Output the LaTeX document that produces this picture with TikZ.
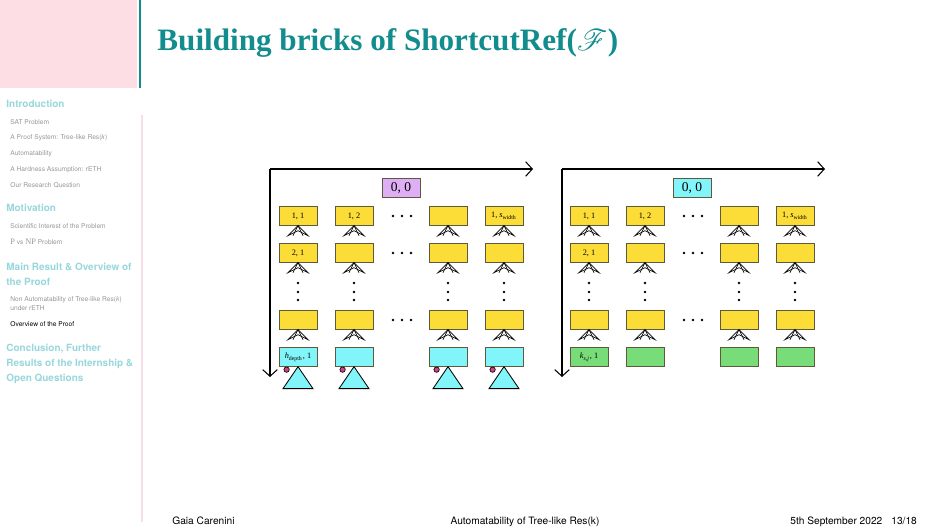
\documentclass[tikz,border=0pt]{standalone}
\usepackage{amsmath}
\usepackage{mathrsfs}
\usepackage{fontspec}
\setsansfont{TeX Gyre Heros}
\newfontfamily\titlefont{Liberation Serif}
\usetikzlibrary{arrows.meta,positioning}

\definecolor{titleteal}{RGB}{18,140,140}
\definecolor{sidepink}{RGB}{252,222,228}
\definecolor{linepink}{RGB}{248,222,230}
\definecolor{navcyan}{RGB}{150,215,220}
\definecolor{navgray}{RGB}{150,150,150}
\definecolor{brickyellow}{RGB}{252,220,55}
\definecolor{brickedge}{RGB}{95,90,60}
\definecolor{brickcyan}{RGB}{130,245,250}
\definecolor{brickgreen}{RGB}{120,220,120}
\definecolor{rootviolet}{RGB}{222,175,245}
\definecolor{dotpink}{RGB}{200,70,130}

\tikzstyle{axis} = [line width=0.5pt,-{Straight Barb[length=3.2pt,width=7pt]}]
\tikzset{
  brick/.style={draw=brickedge, fill=brickyellow, minimum width=18.3pt,
    minimum height=8.9pt, inner sep=0pt, font=\titlefont\fontsize{4}{5}\selectfont},
  leafbox/.style={brick, fill=brickcyan},
  satbox/.style={brick, fill=brickgreen},
  rootbox/.style={brick, minimum height=9.2pt, font=\titlefont\fontsize{6.5}{8}\selectfont},
  fan/.pic={\draw[line width=0.3pt] (-10,10) -- (0,0) -- (10,10) -- (0,5) -- cycle;
            \draw[line width=0.3pt] (-5,10) -- (0,0) -- (5,10);},
  navsec/.style={anchor=base west, inner sep=0pt, text=navcyan,
    font=\sffamily\bfseries\fontsize{4.8}{5.8}\selectfont},
  navsub/.style={anchor=base west, inner sep=0pt, text=navgray,
    font=\sffamily\fontsize{3.2}{4}\selectfont},
  foot/.style={anchor=base west, inner sep=0pt, font=\sffamily\fontsize{4.9}{6}\selectfont},
}

\newcommand{\BrickColumn}[4]% #1=name, #2=x, #3 label of row 1, #4 label of row 2
{\node[brick] (#1-1) at (#2,216) {#3};
 \node[brick] (#1-2) at (#2,253) {#4};
 \node[brick] (#1-3) at (#2,320) {};
 \pic at (#1-1.south) {fan};
 \pic at (#1-2.south) {fan};
 \pic at (#1-3.south) {fan};
 \foreach \dy in {283,292,300} \fill (#2,\dy) circle[radius=0.7pt];
}
\newcommand{\SubTree}[1]% #1=leaf box
{\draw[fill=brickcyan, line width=0.4pt] (#1.south) -- ++(-15,22) -- ++(30,0) -- cycle;
 \draw[fill=dotpink, line width=0.3pt] (#1.south west) ++(8,3) circle[radius=1.3pt];
}

\begin{document}
\begin{tikzpicture}[x=0.4817pt,y=-0.4817pt]
    \useasboundingbox (0,0) rectangle (945,531);

    % frame of the slide
    \fill[sidepink] (0,0) rectangle (137,88);
    \draw[titleteal, line width=1.2pt] (140,0) -- (140,88);
    \draw[linepink, line width=0.8pt] (142,115) -- (142,522);
    \node[anchor=base west, inner sep=0pt, text=titleteal,
          font=\titlefont\bfseries\fontsize{15}{18}\selectfont] (title) at (157,50)
          {Building bricks of ShortcutRef($\mathscr{F}$)};

    % sidebar
    \node[navsec] (nav1) at (6,107.5) {Introduction};
    \node[navsub] (nav2) at (10,124) {SAT Problem};
    \node[navsub] (nav3) at (10,139.5) {A Proof System: Tree-like Res(\textit{k})};
    \node[navsub] (nav4) at (10,155.5) {Automatability};
    \node[navsub] (nav5) at (10,171) {A Hardness Assumption: rETH};
    \node[navsub] (nav6) at (10,187) {Our Research Question};
    \node[navsec] (nav7) at (6,211.5) {Motivation};
    \node[navsub] (nav8) at (10,228) {Scientific Interest of the Problem};
    \node[navsub] (nav9) at (10,244) {{\titlefont\fontsize{4}{5}\selectfont P} vs {\titlefont\fontsize{4}{5}\selectfont NP} Problem};
    \node[navsec] (nav10) at (6,270) {Main Result \& Overview of};
    \node[navsec] (nav11) at (6,285) {the Proof};
    \node[navsub] (nav12) at (10,301) {Non Automatability of Tree-like Res(\textit{k})};
    \node[navsub] (nav13) at (10,310.5) {under rETH};
    \node[navsub, text=black] (nav14) at (10,326) {Overview of the Proof};
    \node[navsec] (nav15) at (6,351) {Conclusion, Further};
    \node[navsec] (nav16) at (6,366) {Results of the Internship \&};
    \node[navsec] (nav17) at (6,381) {Open Questions};

    % footer
    \node[foot] (author) at (172,524) {Gaia Carenini};
    \node[foot, anchor=base] (talk) at (525,524) {Automatability of Tree-like Res(k)};
    \node[foot] (date) at (790,524) {5th September 2022};
    \node[foot] (page) at (891,524) {13/18};

    % left panel
    \coordinate (O1) at (270,169);
    \coordinate (X1) at (533,169);
    \coordinate (Y1) at (270,377);
    \draw[axis] (O1) -- (X1);
    \draw[axis] (O1) -- (Y1);
    \node[rootbox, fill=rootviolet] (root1) at (401,188) {0, 0};

    \BrickColumn{La}{298}{1, 1}{2, 1}
    \BrickColumn{Lb}{354}{1, 2}{}
    \BrickColumn{Lc}{448}{}{}
    \BrickColumn{Ld}{504}{1, \textit{s}\textsubscript{width}}{}
    \foreach \y in {216,253,320}
      \foreach \x in {393,402,411} \fill (\x,\y) circle[radius=0.7pt];

    \node[leafbox] (La-4) at (298,357) {\textit{h}\textsubscript{depth}, 1};
    \node[leafbox] (Lb-4) at (354,357) {};
    \node[leafbox] (Lc-4) at (448,357) {};
    \node[leafbox] (Ld-4) at (504,357) {};
    \SubTree{La-4} \SubTree{Lb-4} \SubTree{Lc-4} \SubTree{Ld-4}

    % right panel
    \coordinate (O2) at (562,169);
    \coordinate (X2) at (825,169);
    \coordinate (Y2) at (562,377);
    \draw[axis] (O2) -- (X2);
    \draw[axis] (O2) -- (Y2);
    \node[rootbox, fill=brickcyan] (root2) at (692,188) {0, 0};

    \BrickColumn{Ra}{589}{1, 1}{2, 1}
    \BrickColumn{Rb}{645}{1, 2}{}
    \BrickColumn{Rc}{739}{}{}
    \BrickColumn{Rd}{795}{1, \textit{s}\textsubscript{width}}{}
    \foreach \y in {216,253,320}
      \foreach \x in {684,693,702} \fill (\x,\y) circle[radius=0.7pt];

    \node[satbox] (Ra-4) at (589,357) {\textit{k}\textsubscript{\textit{s,j}}, 1};
    \node[satbox] (Rb-4) at (645,357) {};
    \node[satbox] (Rc-4) at (739,357) {};
    \node[satbox] (Rd-4) at (795,357) {};

\end{tikzpicture}
\end{document}
